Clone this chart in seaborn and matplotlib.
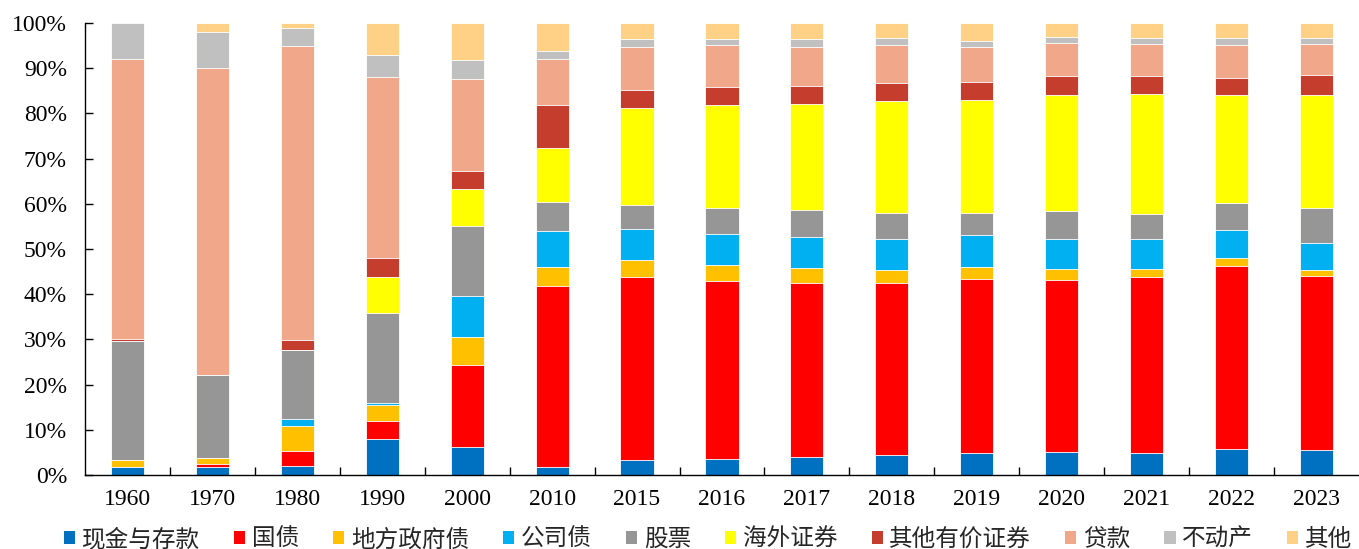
import numpy as np
import pandas as pd
import matplotlib
matplotlib.use("Agg")
import matplotlib.pyplot as plt
from matplotlib.patches import Patch
from matplotlib.ticker import FixedLocator, PercentFormatter
import seaborn as sns

years = ["1960", "1970", "1980", "1990", "2000", "2010", "2015", "2016",
         "2017", "2018", "2019", "2020", "2021", "2022", "2023"]

cash        = [1.8, 1.8, 2.0, 7.9, 6.1, 1.8, 3.3, 3.5, 3.9, 4.3, 4.9, 5.0, 4.9, 5.7, 5.5]
gov_bond    = [0.0, 0.7, 3.3, 4.0, 18.3, 40.1, 40.5, 39.5, 38.6, 38.2, 38.5, 38.2, 38.8, 40.6, 38.6]
local_bond  = [1.5, 1.3, 5.6, 3.6, 6.1, 4.1, 3.7, 3.4, 3.3, 2.9, 2.7, 2.3, 1.8, 1.7, 1.3]
corp_bond   = [0.0, 0.0, 1.4, 0.4, 9.2, 7.9, 6.9, 7.0, 6.8, 6.9, 7.1, 6.8, 6.7, 6.2, 6.0]
stocks      = [26.4, 18.2, 15.4, 20.0, 15.3, 6.5, 5.4, 5.7, 6.1, 5.6, 4.8, 6.2, 5.6, 6.0, 7.7]
overseas    = [0.0, 0.0, 0.0, 8.0, 8.2, 11.9, 21.4, 22.7, 23.4, 24.9, 25.0, 25.6, 26.6, 23.8, 25.0]
other_sec   = [0.4, 0.0, 2.2, 4.0, 4.1, 9.6, 4.0, 4.1, 4.0, 4.0, 3.9, 4.2, 3.9, 3.9, 4.5]
loans       = [61.9, 68.0, 65.1, 40.1, 20.4, 10.1, 9.5, 9.2, 8.7, 8.3, 7.7, 7.2, 7.0, 7.2, 6.8]
real_estate = [8.0, 8.0, 4.0, 5.0, 4.1, 1.9, 1.7, 1.4, 1.7, 1.6, 1.5, 1.4, 1.3, 1.5, 1.4]
other       = [0.0, 2.0, 1.0, 7.0, 8.2, 6.1, 3.6, 3.5, 3.5, 3.3, 3.9, 3.1, 3.4, 3.4, 3.2]

series_names = ["现金与存款", "国债", "地方政府债", "公司债", "股票", "海外证券",
                "其他有价证券", "贷款", "不动产", "其他"]
series_values = [cash, gov_bond, local_bond, corp_bond, stocks, overseas,
                 other_sec, loans, real_estate, other]
colors = ["#0070C0", "#FF0000", "#FFC000", "#00B0F0", "#969696", "#FFFF00",
          "#C43D2D", "#F0A78A", "#C0C0C0", "#FFD187"]

sns.set_theme(style="ticks")
plt.rcParams["font.family"] = ["Liberation Serif", "Noto Sans CJK SC", "DejaVu Sans"]

vals = np.array(series_values, dtype=float)
totals = vals.sum(axis=0)
vals = vals / totals * 100.0
cum = np.cumsum(vals, axis=0)

fig = plt.figure(figsize=(13.59, 5.49), dpi=100)
ax = fig.add_axes([0.0625, 0.135, 0.9375, 0.823])

for i in range(len(series_names) - 1, -1, -1):
    df = pd.DataFrame({"year": years, "value": cum[i]})
    sns.barplot(data=df, x="year", y="value", order=years, color=colors[i],
                width=0.39, edgecolor="white", linewidth=0.6, errorbar=None,
                saturation=1, ax=ax)

ax.set_ylim(0, 100)
ax.set_xlim(-0.5, len(years) - 0.5)
ax.set_xlabel("")
ax.set_ylabel("")
ax.yaxis.set_major_locator(FixedLocator(np.arange(0, 101, 10)))
ax.yaxis.set_major_formatter(PercentFormatter(decimals=0))
for s in ["top", "right"]:
    ax.spines[s].set_visible(False)
for s in ["left", "bottom"]:
    ax.spines[s].set_color("#000000")
    ax.spines[s].set_linewidth(1.0)

ax.tick_params(axis="y", direction="in", length=6, width=1, color="black",
               labelsize=17, pad=13, labelcolor="black")
ax.tick_params(axis="x", which="major", length=0, labelsize=17, pad=10,
               labelcolor="black")
ax.xaxis.set_minor_locator(FixedLocator(np.arange(0.5, len(years) - 1, 1.0)))
ax.tick_params(axis="x", which="minor", direction="in", length=6, width=1,
               color="black")

handles = [Patch(facecolor=c, edgecolor="none") for c in colors]
fig.legend(handles, series_names, loc="center", ncol=10,
           bbox_to_anchor=(0.521, 0.017), frameon=False,
           handlelength=0.47, handleheight=0.47, handletextpad=0.28,
           columnspacing=1.45, borderpad=0.1,
           prop={"family": ["Noto Sans CJK SC", "DejaVu Sans"], "size": 17})

fig.savefig("out.png", dpi=100)
